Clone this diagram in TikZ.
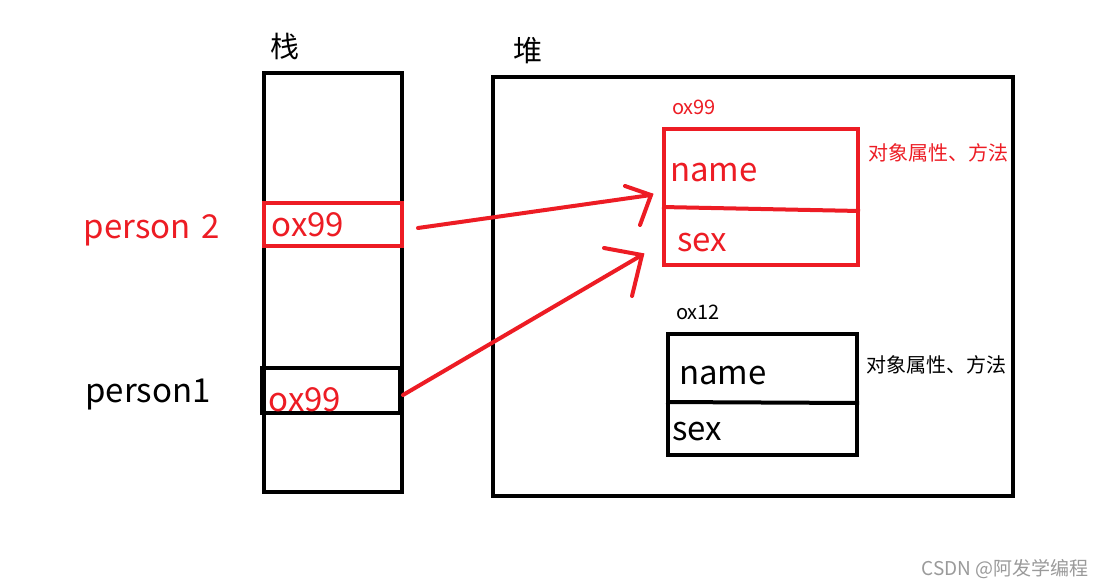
\documentclass[tikz,border=0pt]{standalone}
\usepackage{fontspec}
\setmainfont{Noto Sans CJK SC}
\definecolor{pred}{HTML}{ED1C24}
\definecolor{wm}{HTML}{9A9A9A}
\begin{document}
\begin{tikzpicture}[x=1pt,y=-1pt,
  box/.style={draw,line width=4pt,inner sep=0pt,anchor=north west},
  redline/.style={draw=pred,line width=4pt,line cap=round},
  big/.style={font=\fontsize{33}{33}\selectfont,inner sep=0pt},
  small/.style={font=\fontsize{20}{20}\selectfont,inner sep=0pt},
  note/.style={font=\fontsize{20}{20}\selectfont,inner sep=0pt}]
\fill[white] (0,0) rectangle (1106,587);
\useasboundingbox (0,0) rectangle (1106,587);
% stack
\node[box,minimum width=138pt,minimum height=419pt] (stack) at (262,71) {};
\node[font=\fontsize{29}{29}\selectfont,inner sep=0pt] (stlbl) at (285,46) {栈};
\node[box,draw=pred,minimum width=138pt,minimum height=43pt] (r2) at (262,201) {};
\node[big,text=pred] (o2) at (308,225) {ox99};
\node[box,minimum width=138pt,minimum height=45pt] (r1) at (260,366) {};
\node[big,text=pred] (o1) at (305,400) {ox99};
\node[big,text=pred] (p2) at (152,230) {person\,\,2};
\node[big] (p1) at (148,395) {person1};
% heap
\node[box,minimum width=520pt,minimum height=419pt] (heap) at (491,75) {};
\node[font=\fontsize{29}{29}\selectfont,inner sep=0pt] (hplbl) at (528,51) {堆};
% red object
\node[box,draw=pred,minimum width=194pt,minimum height=136pt] (objA) at (662,127) {};
\draw[draw=pred,line width=4pt] (objA.west |- 0,207) -- (objA.east |- 0,211);
\node[big,text=pred] (nA) at (714,173) {name};
\node[big,text=pred] (sA) at (702,243) {sex};
\node[small,text=pred] (aA) at (694,107) {ox99};
\node[note,text=pred] (dA) at (938,153) {对象属性、方法};
% black object
\node[box,minimum width=189pt,minimum height=121pt] (objB) at (666,332) {};
\draw[line width=4pt] (objB.west |- 0,402) -- (objB.east |- 0,403);
\node[big] (nB) at (723,376) {name};
\node[big] (sB) at (697,432) {sex};
\node[small] (aB) at (698,312) {ox12};
\node[note] (dB) at (936,365) {对象属性、方法};
% arrows
\coordinate (s1) at (418,228);
\coordinate (t1) at (651,195);
\coordinate (s2) at (403,395);
\coordinate (t2) at (642,255);
\draw[redline] (s1) -- (t1);
\draw[redline] (625,186) -- (t1) -- (640,225);
\draw[redline] (s2) -- (t2);
\draw[redline] (604,248) -- (t2) -- (632,296);
% watermark
\node[font=\fontsize{19}{19}\selectfont,text=wm,inner sep=0pt] (wmk) at (1005,569) {CSDN @阿发学编程};
\end{tikzpicture}
\end{document}
